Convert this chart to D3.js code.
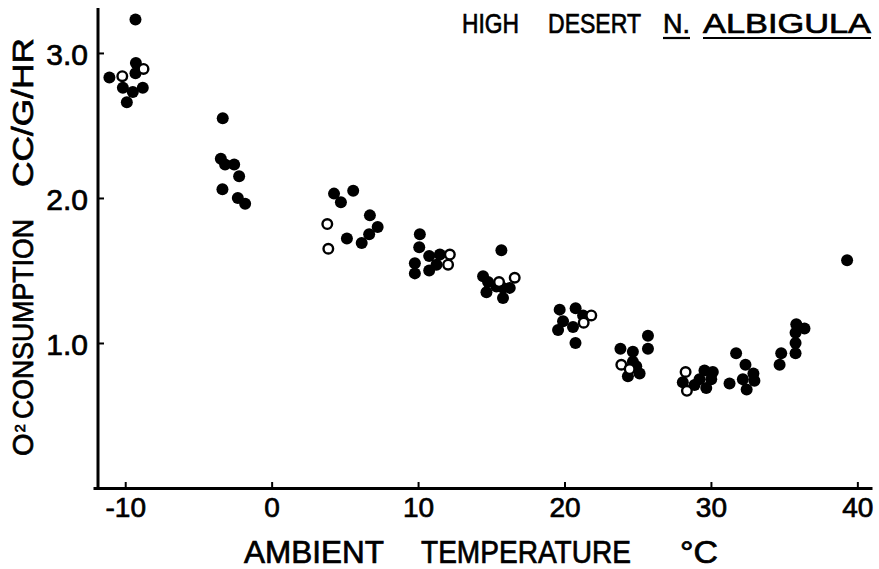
<!DOCTYPE html>
<html>
<head>
<meta charset="utf-8">
<script src="https://cdn.jsdelivr.net/npm/d3@7"></script>
<style>
  body { margin: 0; background: #fff; }
  svg { display: block; }
  text { fill: #000; stroke: #000; stroke-width: 0.7px; }
</style>
</head>
<body>
<div id="chart"></div>
<script>
/// DATA

// filled circles: [ambient temp °C, O2 cc/g/hr]
const filledPoints = [
  [-9.3, 3.23], [-9.27, 2.93], [-9.3, 2.86], [-11.08, 2.83], [-10.16, 2.76],
  [-9.48, 2.73], [-8.8, 2.76], [-9.89, 2.66],
  [-3.34, 2.55], [-3.47, 2.27], [-3.18, 2.23], [-2.56, 2.23], [-2.22, 2.15],
  [-3.36, 2.06], [-2.31, 2.0], [-1.81, 1.96],
  [4.26, 2.03], [5.57, 2.05], [4.73, 1.97], [6.71, 1.88], [7.24, 1.8],
  [6.66, 1.75], [5.14, 1.72], [6.15, 1.69],
  [10.12, 1.75], [10.08, 1.66], [10.76, 1.6], [11.49, 1.61], [9.78, 1.55],
  [9.78, 1.48], [10.76, 1.5], [11.26, 1.54],
  [15.69, 1.64], [14.44, 1.46], [14.78, 1.42], [14.67, 1.35], [15.8, 1.38],
  [15.8, 1.31], [16.26, 1.38], [15.35, 1.39],
  [19.67, 1.23], [20.76, 1.24], [19.9, 1.15], [19.56, 1.09], [20.58, 1.11],
  [21.27, 1.19], [20.75, 1.0],
  [25.7, 1.05], [25.7, 0.96], [23.82, 0.96], [24.67, 0.94], [24.9, 0.84],
  [24.33, 0.77], [25.13, 0.79], [24.67, 0.87],
  [28.08, 0.73], [28.88, 0.71], [29.56, 0.81], [30.13, 0.8], [29.68, 0.69],
  [29.22, 0.75], [30.02, 0.75],
  [31.72, 0.93], [31.27, 0.72], [32.36, 0.85], [32.9, 0.79], [32.97, 0.74],
  [32.44, 0.68], [32.18, 0.75],
  [34.8, 0.93], [34.69, 0.85], [35.83, 1.13], [36.39, 1.1], [35.78, 1.07],
  [35.78, 1.0], [35.78, 0.93],
  [39.3, 1.57],
]

// open circles
const openPoints = [
  [-10.2, 2.84], [-8.75, 2.89],
  [3.8, 1.82], [3.87, 1.65],
  [12.17, 1.61], [12.05, 1.54],
  [15.53, 1.42], [16.6, 1.45],
  [21.83, 1.19], [21.31, 1.14],
  [23.88, 0.85], [24.45, 0.82],
  [28.27, 0.8], [28.36, 0.67],
]

const xTicks = [-10, 0, 10, 20, 30, 40]
const yTicks = [1.0, 2.0, 3.0]

const width = 879
const height = 569
const font = "Liberation Sans, Arial, sans-serif"

/// SCALES

const xScale = d3.scaleLinear().domain([-12.2, 41]).range([93, 872])
const yScale = d3.scaleLinear().domain([0, 3.31]).range([488, 8])

const svg = d3
  .select("#chart")
  .append("svg")
  .attr("width", width)
  .attr("height", height)
  .attr("viewBox", [0, 0, width, height])

/// AXES

const xAxisGenerator = d3
  .axisBottom(xScale)
  .tickValues(xTicks)
  .tickFormat((d) => String(d))
  .tickSizeInner(-6)
  .tickSizeOuter(0)
  .tickPadding(9)

const yAxisGenerator = d3
  .axisLeft(yScale)
  .tickValues(yTicks)
  .tickFormat(d3.format(".1f"))
  .tickSizeInner(-6)
  .tickSizeOuter(0)
  .tickPadding(10)

const xAxis = svg
  .append("g")
  .attr("transform", `translate(0, ${yScale(0)})`)
  .call(xAxisGenerator)

const yAxis = svg
  .append("g")
  .attr("transform", `translate(98, 0)`)
  .call(yAxisGenerator)

yAxis.select(".domain").attr("d", `M0,${yScale.range()[1]}V${yScale(0) + 1}`)

for (const ax of [xAxis, yAxis]) {
  ax.select(".domain").attr("stroke", "#000").attr("stroke-width", 3)
  ax.selectAll(".tick line").attr("stroke", "#000").attr("stroke-width", 2)
  ax.selectAll(".tick text").style("font-family", font)
}
xAxis.selectAll(".tick text").style("font-size", "28px")
yAxis.selectAll(".tick text").style("font-size", "30px").attr("dy", "0.38em")

/// POINTS

svg
  .append("g")
  .selectAll("circle")
  .data(filledPoints)
  .join("circle")
  .attr("cx", (d) => xScale(d[0]))
  .attr("cy", (d) => yScale(d[1]))
  .attr("r", 6)
  .attr("fill", "#000")

svg
  .append("g")
  .selectAll("circle")
  .data(openPoints)
  .join("circle")
  .attr("cx", (d) => xScale(d[0]))
  .attr("cy", (d) => yScale(d[1]))
  .attr("r", 4.8)
  .attr("fill", "#fff")
  .attr("stroke", "#000")
  .attr("stroke-width", 2.4)

/// LABELS

const xTitle = [
  ["AMBIENT", 244, 140],
  ["TEMPERATURE", 421, 210],
  ["°C", 680, 38],
]
svg
  .append("g")
  .selectAll("text")
  .data(xTitle)
  .join("text")
  .attr("x", (d) => d[1])
  .attr("y", 563)
  .attr("textLength", (d) => d[2])
  .attr("lengthAdjust", "spacingAndGlyphs")
  .style("font-family", font)
  .style("font-size", "31px")
  .text((d) => d[0])

const yTitle = svg
  .append("g")
  .attr("transform", "translate(33, 0) rotate(-90)")

const o2 = yTitle
  .append("text")
  .attr("x", -456)
  .attr("y", 0)
  .style("font-family", font)
  .style("font-size", "29px")
o2.append("tspan").text("O")
o2.append("tspan")
  .style("font-size", "15px")
  .attr("dx", 1)
  .attr("dy", -8)
  .text("2")

yTitle
  .append("text")
  .attr("x", -419)
  .attr("y", 0)
  .attr("textLength", 200)
  .attr("lengthAdjust", "spacingAndGlyphs")
  .style("font-family", font)
  .style("font-size", "29px")
  .text("CONSUMPTION")

yTitle
  .append("text")
  .attr("x", -187)
  .attr("y", 0)
  .attr("textLength", 149)
  .attr("lengthAdjust", "spacingAndGlyphs")
  .style("font-family", font)
  .style("font-size", "29px")
  .text("CC/G/HR")

// title, top right
const titleParts = [
  ["HIGH", 462, 57, false],
  ["DESERT", 548, 93, false],
  ["N.", 663, 27, true],
  ["ALBIGULA", 703, 168, true],
]
titleParts.forEach(([txt, x, len, underline]) => {
  svg
    .append("text")
    .attr("x", x)
    .attr("y", 33)
    .attr("textLength", len)
    .attr("lengthAdjust", "spacingAndGlyphs")
    .style("font-family", font)
    .style("font-size", "28px")
    .text(txt)
  if (underline) {
    svg
      .append("line")
      .attr("x1", x)
      .attr("x2", x + len)
      .attr("y1", 38)
      .attr("y2", 38)
      .attr("stroke", "#000")
      .attr("stroke-width", 2.2)
  }
})
</script>
</body>
</html>
